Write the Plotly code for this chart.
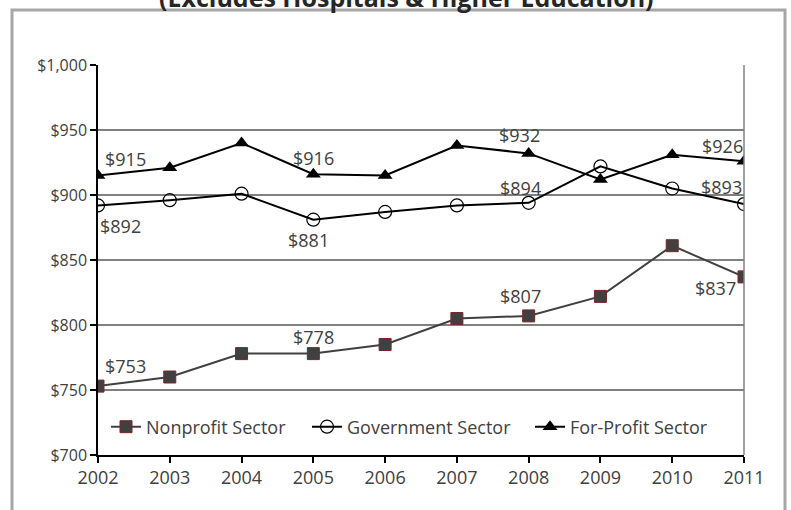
import plotly.graph_objects as go

# Average weekly wages by sector, 2002-2011
years = [2002, 2003, 2004, 2005, 2006, 2007, 2008, 2009, 2010, 2011]
nonprofit = [753, 760, 778, 778, 785, 805, 807, 822, 861, 837]
government = [892, 896, 901, 881, 887, 892, 894, 922, 905, 893]
for_profit = [915, 921, 940, 916, 915, 938, 932, 912, 931, 926]

y_ticks = [700, 750, 800, 850, 900, 950, 1000]

W, H = 791, 510
L, R, T, B = 98, 47, 65, 55
PW, PH = W - L - R, H - T - B


def px_x(p):
    return (p - L) / PW


def px_y(p):
    return (H - B - p) / PH


FONT = "Open Sans"
TXT = "#404040"

fig = go.Figure()

fig.add_trace(go.Scatter(
    x=years, y=nonprofit, name="Nonprofit Sector", mode="lines+markers",
    line=dict(color="#404040", width=2),
    marker=dict(symbol="square", size=12, color="#404040",
                line=dict(color="#7a2626", width=1)),
    legend="legend",
))
fig.add_trace(go.Scatter(
    x=years, y=government, name="Government Sector", mode="lines+markers",
    line=dict(color="#000000", width=2),
    marker=dict(symbol="circle-open", size=13, color="#000000",
                line=dict(color="#000000", width=1.2)),
    legend="legend2",
))
fig.add_trace(go.Scatter(
    x=years, y=for_profit, name="For-Profit Sector", mode="lines+markers",
    line=dict(color="#000000", width=2),
    marker=dict(symbol="triangle-up", size=13, color="#000000"),
    legend="legend3",
))

# Value labels: (series, index, xshift, yshift)
labels = [
    (for_profit, 0, 27, 17), (government, 0, 22, -21), (nonprofit, 0, 27, 20),
    (for_profit, 3, 0, 16), (government, 3, -5, -20), (nonprofit, 3, 0, 17),
    (for_profit, 6, -9, 18), (government, 6, -8, 15), (nonprofit, 6, -8, 20),
    (for_profit, 9, -22, 15), (government, 9, -23, 17), (nonprofit, 9, -29, -11),
]
for series, i, dx, dy in labels:
    fig.add_annotation(
        x=years[i], y=series[i], text=f"${series[i]}", showarrow=False,
        xshift=dx, yshift=dy, font=dict(family=FONT, size=18, color=TXT),
    )

# Title line, partly clipped at the top of the page
fig.add_annotation(
    xref="paper", yref="paper", x=px_x(406), y=px_y(16),
    xanchor="center", yanchor="bottom", showarrow=False,
    text="<b>(Excludes Hospitals & Higher Education)</b>",
    font=dict(family=FONT, size=25, color="#262626"),
)

# Outer chart frame
fig.add_shape(
    type="rect", xref="paper", yref="paper",
    x0=px_x(12), x1=px_x(785), y0=px_y(560), y1=px_y(10),
    line=dict(color="#a6a6a6", width=3), fillcolor="rgba(0,0,0,0)", layer="below",
)
# Right edge of plot area
fig.add_shape(
    type="line", xref="paper", yref="paper", x0=1, x1=1, y0=0, y1=1,
    line=dict(color="#808080", width=1.5),
)

legend_common = dict(
    orientation="h", yanchor="middle", xanchor="left",
    font=dict(family=FONT, size=18, color=TXT), bgcolor="rgba(0,0,0,0)",
    borderwidth=0, itemwidth=30,
)
fig.update_layout(
    width=W, height=H,
    margin=dict(l=L, r=R, t=T, b=B),
    paper_bgcolor="white", plot_bgcolor="white",
    showlegend=True,
    legend=dict(x=px_x(106), y=px_y(427), **legend_common),
    legend2=dict(x=px_x(307), y=px_y(427), **legend_common),
    legend3=dict(x=px_x(530), y=px_y(427), **legend_common),
    xaxis=dict(
        range=[2002, 2011], tickvals=years, showgrid=False,
        showline=True, linecolor="#000000", linewidth=1.5,
        ticks="outside", ticklen=6, tickcolor="#000000", tickwidth=1.5,
        tickfont=dict(family=FONT, size=18, color=TXT), zeroline=False,
    ),
    yaxis=dict(
        range=[700, 1000], tickvals=y_ticks,
        ticktext=[f"${v:,}" for v in y_ticks],
        showgrid=True, gridcolor="#808080", gridwidth=1.5,
        showline=True, linecolor="#000000", linewidth=1.5,
        ticks="outside", ticklen=6, tickcolor="#000000", tickwidth=1.5,
        tickfont=dict(family=FONT, size=16, color=TXT), zeroline=False,
    ),
)

fig.write_html("out.html")
